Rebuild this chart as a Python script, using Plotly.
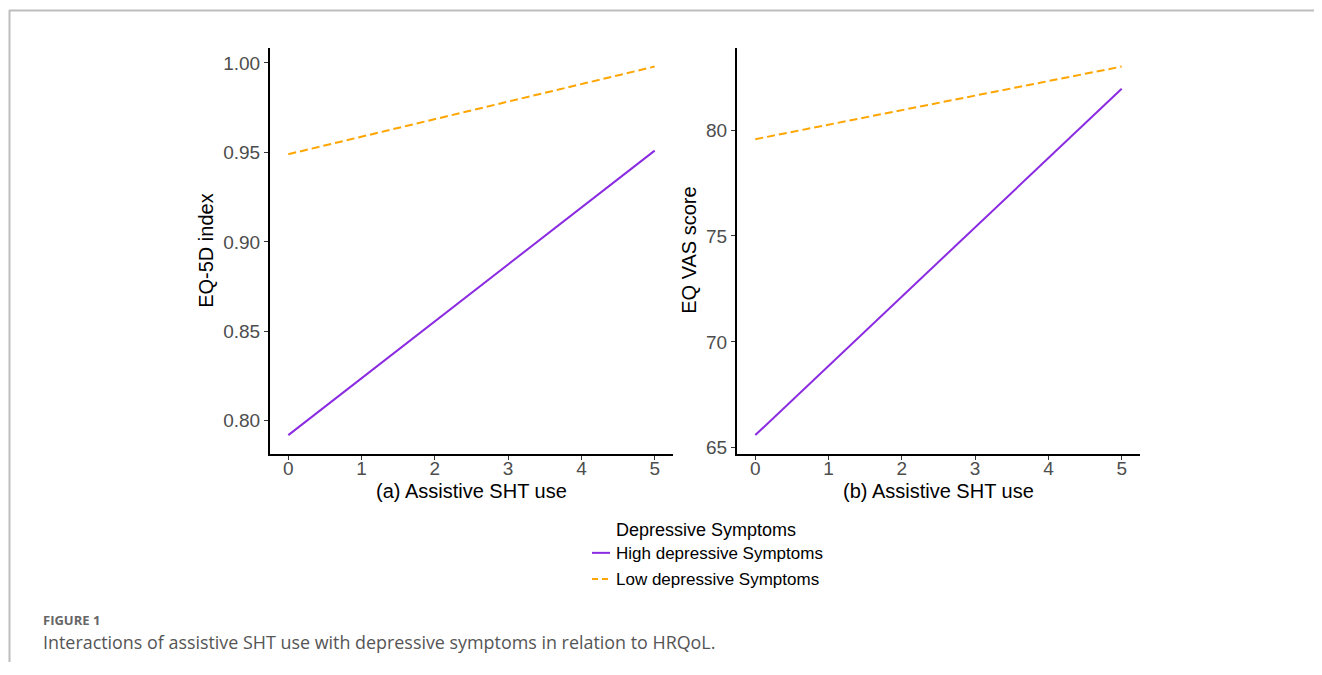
import plotly.graph_objects as go

# ---- data ----
shtx = [0, 5]
eq5d_high = [0.792, 0.951]
eq5d_low = [0.949, 0.998]
vas_high = [65.6, 81.95]
vas_low = [79.57, 83.0]
eq5d_ticks = [0.80, 0.85, 0.90, 0.95, 1.00]
vas_ticks = [65, 70, 75, 80]
x_ticks = [0, 1, 2, 3, 4, 5]
series_names = ["High depressive Symptoms", "Low depressive Symptoms"]

OFF = 8  # browser body margin
W, H = 1322 - 2 * OFF, 675 - 2 * OFF
S = 1 / 0.989  # vertical correction observed in rendering
PURPLE = "#8A2BE2"
ORANGE = "#FFA500"
FONT = "Arial, Liberation Sans, sans-serif"
CAPFONT = "Open Sans, Lato, sans-serif"

def px(x):
    return (x - OFF) / W

def py(y):
    yp = 10 + (y - 10) * S
    return 1 - (yp - OFF) / H

fig = go.Figure()
fig.add_trace(go.Scatter(x=shtx, y=eq5d_high, mode="lines", name=series_names[0],
                         line=dict(color=PURPLE, width=2), xaxis="x", yaxis="y", showlegend=False))
fig.add_trace(go.Scatter(x=shtx, y=eq5d_low, mode="lines", name=series_names[1],
                         line=dict(color=ORANGE, width=2, dash="8px,4px"), xaxis="x", yaxis="y", showlegend=False))
fig.add_trace(go.Scatter(x=shtx, y=vas_high, mode="lines", name=series_names[0],
                         line=dict(color=PURPLE, width=2), xaxis="x2", yaxis="y2", showlegend=False))
fig.add_trace(go.Scatter(x=shtx, y=vas_low, mode="lines", name=series_names[1],
                         line=dict(color=ORANGE, width=2, dash="8px,4px"), xaxis="x2", yaxis="y2", showlegend=False))

def rng(vals):
    lo, hi = min(vals), max(vals)
    e = (hi - lo) * 0.05
    return [lo - e, hi + e]

axis_common = dict(showgrid=False, zeroline=False, showline=True, linecolor="black", linewidth=2,
                   ticks="outside", ticklen=4, tickcolor="#333333", tickwidth=1,
                   tickfont=dict(family=FONT, size=19, color="#4d4d4d"))
title_font = dict(family=FONT, size=20, color="black")

ydom = [py(452), py(48)]
fig.update_layout(
    width=W, height=H, margin=dict(l=0, r=0, t=0, b=0),
    paper_bgcolor="white", plot_bgcolor="white",
    xaxis=dict(domain=[px(270), px(673)], range=[-0.25, 5.25], tickvals=x_ticks, anchor="y",
               ticklabelstandoff=-7, **axis_common),
    yaxis=dict(domain=ydom, range=rng(eq5d_high + eq5d_low), tickvals=eq5d_ticks, tickformat=".2f",
               anchor="x", **axis_common),
    xaxis2=dict(domain=[px(737), px(1140)], range=[-0.25, 5.25], tickvals=x_ticks, anchor="y2",
                ticklabelstandoff=-7, **axis_common),
    yaxis2=dict(domain=ydom, range=rng(vas_high + vas_low), tickvals=vas_ticks,
                anchor="x2", **axis_common),
)

shapes = [
    # outer frame
    dict(type="line", xref="paper", yref="paper", x0=px(9), x1=1.0, y0=py(10.5), y1=py(10.5),
         line=dict(color="#bdbdbd", width=2)),
    dict(type="line", xref="paper", yref="paper", x0=px(9.5), x1=px(9.5), y0=py(10), y1=0,
         line=dict(color="#bdbdbd", width=2)),
    # legend keys
    dict(type="line", xref="paper", yref="paper", x0=px(592), x1=px(610), y0=py(551), y1=py(551),
         line=dict(color=PURPLE, width=2)),
    dict(type="line", xref="paper", yref="paper", x0=px(592), x1=px(610), y0=py(577), y1=py(577),
         line=dict(color=ORANGE, width=2, dash="6px,4px")),
]
fig.update_layout(shapes=shapes)

ann = [
    dict(text="Depressive Symptoms", x=px(614), y=py(528), font=dict(family=FONT, size=18, color="black")),
    dict(text=series_names[0], x=px(614), y=py(552), font=dict(family=FONT, size=17, color="black")),
    dict(text=series_names[1], x=px(614), y=py(578), font=dict(family=FONT, size=17, color="black")),
    dict(text="<b>FIGURE 1</b>", x=px(41), y=py(618), font=dict(family=CAPFONT, size=13, color="#666666")),
    dict(text="Interactions of assistive SHT use with depressive symptoms in relation to HRQoL.",
         x=px(41), y=py(640), font=dict(family=CAPFONT, size=17.9, color="#555555")),
]
for a in ann:
    fig.add_annotation(xref="paper", yref="paper", xanchor="left", yanchor="middle", showarrow=False, **a)

# axis titles
titles = [
    dict(text="(a) Assistive SHT use", x=px(471), y=py(489), textangle=0),
    dict(text="(b) Assistive SHT use", x=px(938), y=py(489), textangle=0),
    dict(text="EQ-5D index", x=px(206), y=py(250), textangle=-90),
    dict(text="EQ VAS score", x=px(689), y=py(250), textangle=-90),
]
for t in titles:
    fig.add_annotation(xref="paper", yref="paper", xanchor="center", yanchor="middle", showarrow=False,
                       font=title_font, **t)

fig.write_html("out.html")
